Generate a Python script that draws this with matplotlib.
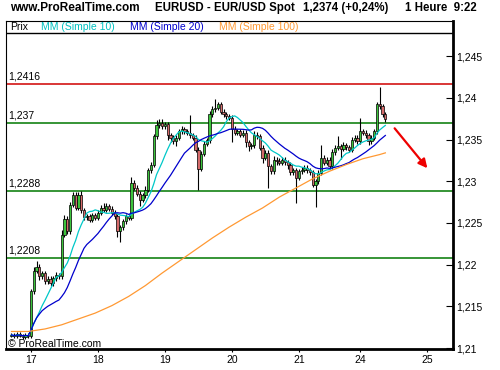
import numpy as np
import pandas as pd
import matplotlib
matplotlib.use('Agg')
import matplotlib.pyplot as plt

plt.rcParams['font.family'] = ['Liberation Sans', 'DejaVu Sans']

# hourly closes, first candle = 16th evening, index 0 = 17th 00:00
closes = [
    1.2116, 1.2114, 1.2117, 1.2115, 1.2113, 1.2116, 1.2114,
    1.2168, 1.2193, 1.2197, 1.2186, 1.2190, 1.2180, 1.2183, 1.2178, 1.2184, 1.2188,
    1.2186, 1.2236, 1.2255, 1.2240, 1.2272, 1.2284, 1.2268, 1.2284, 1.2265, 1.2257,
    1.2258, 1.2254, 1.2259, 1.2256, 1.2262, 1.2268, 1.2266, 1.2270, 1.2267, 1.2262,
    1.2258, 1.2240, 1.2245, 1.2252, 1.2258, 1.2256, 1.2298, 1.2292, 1.2285, 1.2278,
    1.2283, 1.2290, 1.2313, 1.2320, 1.2354, 1.2367, 1.2370, 1.2366, 1.2368, 1.2355,
    1.2352, 1.2348, 1.2352, 1.2360, 1.2362, 1.2360, 1.2358, 1.2355, 1.2352, 1.2338,
    1.2315, 1.2333, 1.2345, 1.2349, 1.2380, 1.2386, 1.2388, 1.2392, 1.2383, 1.2380,
    1.2378, 1.2376, 1.2362, 1.2358, 1.2360, 1.2356, 1.2358, 1.2347, 1.2342, 1.2343,
    1.2356, 1.2354, 1.2340, 1.2328, 1.2334, 1.2318, 1.2312, 1.2326, 1.2324, 1.2322,
    1.2326, 1.2323, 1.2320, 1.2311, 1.2313, 1.2304, 1.2312, 1.2314, 1.2316, 1.2313,
    1.2311, 1.2296, 1.2300, 1.2310, 1.2328, 1.2322, 1.2326, 1.2318, 1.2335, 1.2340,
    1.2342, 1.2339, 1.2343, 1.2341, 1.2338, 1.2350, 1.2352, 1.2348, 1.2360, 1.2358,
    1.2355, 1.2348, 1.2352, 1.2360, 1.2392, 1.2390, 1.2380, 1.2374,
]
first_open = 1.2115

# wick lengths beyond the body, in pips
up_wick = [
    2, 2, 2, 2, 2, 2, 2,
    3, 4, 8, 4, 3, 3, 3, 3, 3, 3,
    2, 5, 4, 3, 3, 3, 3, 3, 4, 3,
    3, 3, 3, 3, 4, 3, 6, 4, 3, 3,
    3, 3, 3, 3, 3, 3, 7, 4, 3, 3,
    3, 4, 3, 3, 3, 6, 5, 4, 3, 3,
    3, 3, 3, 3, 4, 3, 3, 21, 3, 3,
    3, 3, 3, 3, 4, 4, 11, 3, 3, 3,
    3, 3, 3, 4, 3, 3, 3, 3, 3, 3,
    4, 3, 3, 3, 3, 3, 3, 4, 3, 4,
    3, 3, 3, 3, 3, 3, 3, 3, 3, 3,
    3, 3, 3, 3, 15, 3, 3, 3, 4, 3,
    12, 3, 4, 3, 3, 3, 3, 3, 16, 3,
    3, 3, 3, 3, 3, 21, 3, 3,
]
down_wick = [
    2, 2, 2, 2, 2, 2, 2,
    2, 3, 3, 4, 3, 3, 3, 3, 3, 3,
    3, 3, 3, 3, 3, 3, 3, 3, 3, 3,
    3, 3, 3, 3, 3, 3, 3, 3, 3, 3,
    3, 7, 13, 3, 3, 3, 3, 3, 3, 8,
    3, 3, 3, 3, 3, 3, 3, 3, 3, 5,
    5, 3, 6, 3, 3, 3, 3, 3, 3, 3,
    25, 3, 3, 3, 3, 3, 3, 3, 3, 3,
    3, 3, 15, 3, 3, 3, 3, 6, 6, 3,
    3, 3, 3, 6, 3, 26, 3, 3, 4, 3,
    3, 3, 5, 3, 3, 30, 3, 3, 3, 3,
    3, 3, 27, 3, 3, 3, 3, 3, 3, 4,
    3, 12, 3, 3, 3, 3, 3, 3, 3, 3,
    3, 4, 3, 3, 3, 3, 3, 3,
]

# MM 100 (history before the first candle not shown)
ma100_idx = [-7, -1, 5, 11, 17, 23, 29, 35, 41, 47, 53, 59, 65, 71, 77, 83,
             89, 95, 101, 107, 113, 119, 125, 127]
ma100_val = [1.2120, 1.2120, 1.2123, 1.2128, 1.2135, 1.2142, 1.2151, 1.2162,
             1.2175, 1.2190, 1.2204, 1.2218, 1.2232, 1.2245, 1.2257, 1.2268,
             1.2281, 1.2292, 1.2303, 1.2312, 1.2320, 1.2327, 1.2332, 1.2334]

levels = [1.2416, 1.237, 1.2288, 1.2208]
level_labels = ['1,2416', '1,237', '1,2288', '1,2208']
level_colors = ['#d00000', '#007800', '#007800', '#007800']

day_pos = [0, 24, 48, 72, 96, 118, 142]
day_labels = ['17', '18', '19', '20', '21', '24', '25']
price_ticks = [1.21, 1.215, 1.22, 1.225, 1.23, 1.235, 1.24, 1.245]
price_labels = ['1,21', '1,215', '1,22', '1,225', '1,23', '1,235', '1,24', '1,245']

idx = np.arange(-7, -7 + len(closes))
c = np.array(closes)
o = np.concatenate([[first_open], c[:-1]])
hi = np.maximum(o, c) + np.array(up_wick) / 10000
lo = np.minimum(o, c) - np.array(down_wick) / 10000
s = pd.Series(c)
ma10 = s.rolling(10, min_periods=1).mean()
ma20 = s.rolling(20, min_periods=1).mean()

fig = plt.figure(figsize=(5, 3.7), dpi=100)
ax = fig.add_axes([6 / 500, 21 / 370, 447 / 500, 328 / 370])
ax.set_xlim(-8.96, 151.25)
ax.set_ylim(1.2099, 1.2492)

for lv, lab, col in zip(levels, level_labels, level_colors):
    ax.axhline(lv, color=col, lw=1.1, zorder=1)
    ax.text(-8.2, lv + 0.0003, lab, fontsize=7.5, va='bottom', ha='left')

# candles
up = c >= o
body_lo = np.minimum(o, c)
body_h = np.maximum(np.abs(c - o), 0.00006)
ax.vlines(idx, lo, hi, color='black', lw=0.8, zorder=2)
ax.bar(idx, body_h, bottom=body_lo, width=0.8,
       color=np.where(up, '#3cc43c', '#d46a6a'), edgecolor='black', linewidth=0.5, zorder=3)

ax.plot(idx, ma10, color='#00c8c8', lw=0.9, zorder=4)
ax.plot(idx, ma20, color='#0000cc', lw=0.9, zorder=4)
ax.plot(ma100_idx, ma100_val, color='#ff9933', lw=0.9, zorder=4)

ax.annotate('', xy=(142.7, 1.2313), xytext=(129.7, 1.2366),
            arrowprops=dict(arrowstyle='-|>', color='#ee0000', lw=1.6, mutation_scale=13))

# legend strip on top
ax.axhline(1.24776, color='black', lw=1)
ax.text(0.009, 0.982, 'Prix', transform=ax.transAxes, fontsize=7.5, va='center', color='black')
ax.text(0.078, 0.982, 'MM (Simple 10)', transform=ax.transAxes, fontsize=7.5, va='center', color='#00c0c0')
ax.text(0.277, 0.982, 'MM (Simple 20)', transform=ax.transAxes, fontsize=7.5, va='center', color='#0000cc')
ax.text(0.476, 0.982, 'MM (Simple 100)', transform=ax.transAxes, fontsize=7.5, va='center', color='#ff9933')

ax.set_xticks(day_pos)
ax.set_xticklabels(day_labels, fontsize=7.5)
ax.set_yticks(price_ticks)
ax.set_yticklabels(price_labels, fontsize=7.5)
ax.yaxis.tick_right()
ax.tick_params(axis='y', direction='in', length=5, pad=2, width=0.8)
ax.tick_params(axis='x', direction='out', length=2.5, pad=2, width=0.8)
for side, w in [('left', 0.8), ('top', 0.8), ('right', 2), ('bottom', 2)]:
    ax.spines[side].set_linewidth(w)

fig.text(10 / 500, 1 - 8 / 370, 'www.ProRealTime.com', fontsize=8.5, fontweight='bold', va='center')
fig.text(155 / 500, 1 - 8 / 370, 'EURUSD - EUR/USD Spot', fontsize=8.3, fontweight='bold', va='center')
fig.text(303 / 500, 1 - 8 / 370, '1,2374 (+0,24%)', fontsize=8.3, fontweight='bold', va='center')
fig.text(405 / 500, 1 - 8 / 370, '1 Heure  9:22', fontsize=8.3, fontweight='bold', va='center')
fig.text(8 / 500, 1 - 344 / 370, '\u00a9 ProRealTime.com', fontsize=7.5, va='center')

plt.savefig('out.png', dpi=100)
